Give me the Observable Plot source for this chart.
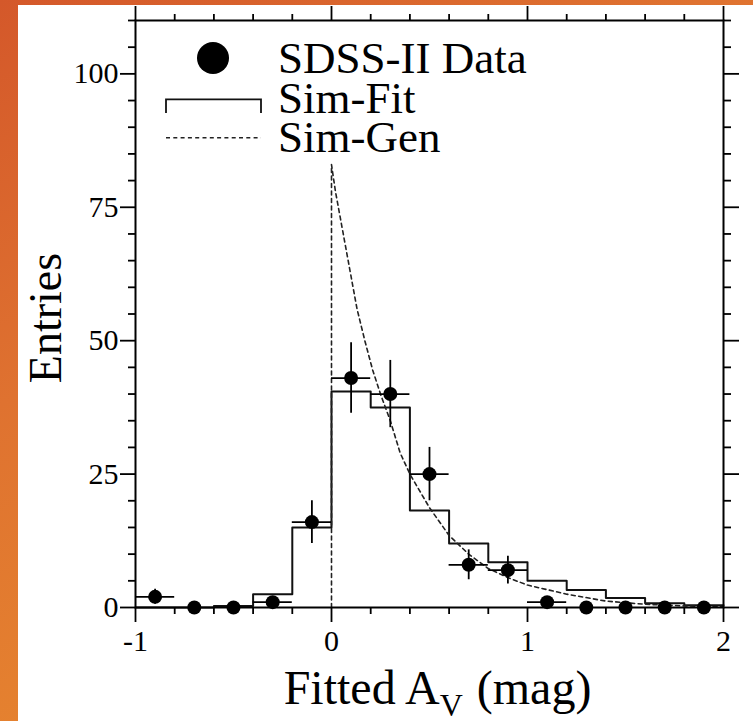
<!DOCTYPE html>
<html><head><meta charset="utf-8">
<script src="https://cdn.jsdelivr.net/npm/d3@7"></script>
<script src="https://cdn.jsdelivr.net/npm/@observablehq/plot@0.6"></script>
<style>
html,body{margin:0;padding:0;}
body{width:753px;height:721px;overflow:hidden;position:relative;
  background:linear-gradient(150deg,#d4582a 0%,#df7230 35%,#e5822f 65%,#e88c3a 100%);}
#chart{position:absolute;left:18px;top:5px;width:735px;height:716px;background:#fff;}
#chart svg{display:block;}
</style></head><body><div id="chart"></div>
<script>
// ---- data ----
const binEdges   = [-1.0,-0.8,-0.6,-0.4,-0.2,0.0,0.2,0.4,0.6,0.8,1.0,1.2,1.4,1.6,1.8,2.0];
const binCenters = [-0.9,-0.7,-0.5,-0.3,-0.1,0.1,0.3,0.5,0.7,0.9,1.1,1.3,1.5,1.7,1.9];
const dataCounts = [2,0,0,1,16,43,40,25,8,7,1,0,0,0,0];
const dataErrors = [1.4,0,0,1,4,6.6,6.3,5,2.8,2.6,1,0,0,0,0];
const simFit     = [0,0,0.3,2.5,15,40.5,37.5,18.2,12,8.5,5,3.3,1.8,0.8,0.4];
const genX = [0,0,0.02,0.04,0.06,0.1,0.13,0.17,0.21,0.25,0.3,0.35,0.4,0.5,0.6,0.7,0.8,0.9,1.0,1.2,1.4,1.6,1.8,2.0];
const genY = [0,83,78,74,70,62,56,50,44.5,40,35,29,25,18.7,13.5,10,7.3,5.6,4.2,2.5,1.2,0.6,0.3,0.15];
const xMajorTicks = [-1,0,1,2];
const xMinorTicks = [-0.8,-0.6,-0.4,-0.2,0.2,0.4,0.6,0.8,1.2,1.4,1.6,1.8];
const yMajorTicks = [0,25,50,75,100];
const yMinorTicks = [5,10,15,20,30,35,40,45,55,60,65,70,80,85,90,95,105,110];
const legendLabels = ["SDSS-II Data","Sim-Fit","Sim-Gen"];
const xTitle = "Fitted AV (mag)";
const yTitle = "Entries";

// ---- tables ----
const points = binCenters.map((c,i)=>({x:c, y:dataCounts[i], e:dataErrors[i], lo:binEdges[i], hi:binEdges[i+1]}));
const nonzero = points.filter(d=>d.y>0);
const withErr = points.filter(d=>d.e>0);
const hist = binEdges.map((e,i)=>({x:e, y: simFit[Math.min(i, simFit.length-1)]}));
const gen = genX.map((x,i)=>({x, y:genY[i]}));

const font = "'Liberation Serif','Times New Roman',serif";
const sw = 1.8;
const noLabel = () => "";

const chart = Plot.plot({
  width: 735, height: 716,
  marginLeft: 117, marginTop: 15, marginRight: 30, marginBottom: 114,
  style: {fontFamily: font, fontSize: "30px", background: "white", color: "black"},
  x: {domain: [-1, 2]},
  y: {domain: [0, 110]},
  marks: [
    Plot.line(hist, {x:"x", y:"y", curve:"step-after", stroke:"#111", strokeWidth:2}),
    Plot.line(gen, {x:"x", y:"y", stroke:"#222", strokeWidth:1.6, strokeDasharray:"4,3.5"}),
    Plot.ruleY(nonzero, {x1:"lo", x2:"hi", y:"y", stroke:"black", strokeWidth:sw}),
    Plot.ruleX(withErr, {x:"x", y1:d=>d.y-d.e, y2:d=>d.y+d.e, stroke:"black", strokeWidth:sw}),
    Plot.dot(points, {x:"x", y:"y", r:7, fill:"black", stroke:"none"}),
    Plot.frame({stroke:"black", strokeWidth:2}),
    Plot.axisX(xMajorTicks, {anchor:"bottom", tickSize:15, tickPadding:7, tickFormat:d=>String(d), label:null, fontSize:30, strokeWidth:sw}),
    Plot.axisX(xMinorTicks, {anchor:"bottom", tickSize:7, tickFormat:noLabel, label:null, strokeWidth:sw}),
    Plot.axisX(xMajorTicks, {anchor:"top", tickSize:15, tickFormat:noLabel, label:null, strokeWidth:sw}),
    Plot.axisX(xMinorTicks, {anchor:"top", tickSize:7, tickFormat:noLabel, label:null, strokeWidth:sw}),
    Plot.axisY(yMajorTicks, {anchor:"left", tickSize:15, tickPadding:2, tickFormat:d=>String(d), label:null, fontSize:30, strokeWidth:sw}),
    Plot.axisY(yMinorTicks, {anchor:"left", tickSize:7, tickFormat:noLabel, label:null, strokeWidth:sw}),
    Plot.axisY(yMajorTicks, {anchor:"right", tickSize:15, tickFormat:noLabel, label:null, strokeWidth:sw}),
    Plot.axisY(yMinorTicks, {anchor:"right", tickSize:7, tickFormat:noLabel, label:null, strokeWidth:sw}),
    Plot.text([yTitle], {text:d=>d, frameAnchor:"left", rotate:-90, dx:-75, dy:4, fontSize:46, lineAnchor:"bottom", textAnchor:"middle", fill:"black"}),
    Plot.text([xTitle], {text:d=>d, frameAnchor:"bottom", dx:8, dy:96, fontSize:48, lineAnchor:"bottom", textAnchor:"middle", fill:"black"})
  ]
});
document.getElementById("chart").appendChild(chart);

// subscript in x title
d3.select(chart).selectAll("text").filter(function(){return this.textContent===xTitle;}).each(function(){
  const t = d3.select(this); t.text("");
  t.append("tspan").text("Fitted A");
  t.append("tspan").attr("dy", 12).attr("font-size", 32).text("V");
  t.append("tspan").attr("dy", -12).attr("font-size", 48).attr("dx", 14).text("(mag)");
});

// legend (inside frame, top-left)
const lg = d3.select(chart).append("g").attr("font-family", font).attr("font-size", 45).attr("fill","black").attr("text-anchor","start");
lg.append("circle").attr("cx", 195).attr("cy", 53).attr("r", 16).attr("fill","black");
lg.append("path").attr("d","M148,108V94.3H243V108").attr("fill","none").attr("stroke","#111").attr("stroke-width",1.8);
lg.append("line").attr("x1",148).attr("x2",243).attr("y1",132.7).attr("y2",132.7).attr("stroke","#222").attr("stroke-width",1.6).attr("stroke-dasharray","4,3.3");
[68,108,147].forEach((y,i)=>{
  lg.append("text").attr("x",260).attr("y",y).attr("text-anchor","start").text(legendLabels[i]);
});
</script></body></html>
